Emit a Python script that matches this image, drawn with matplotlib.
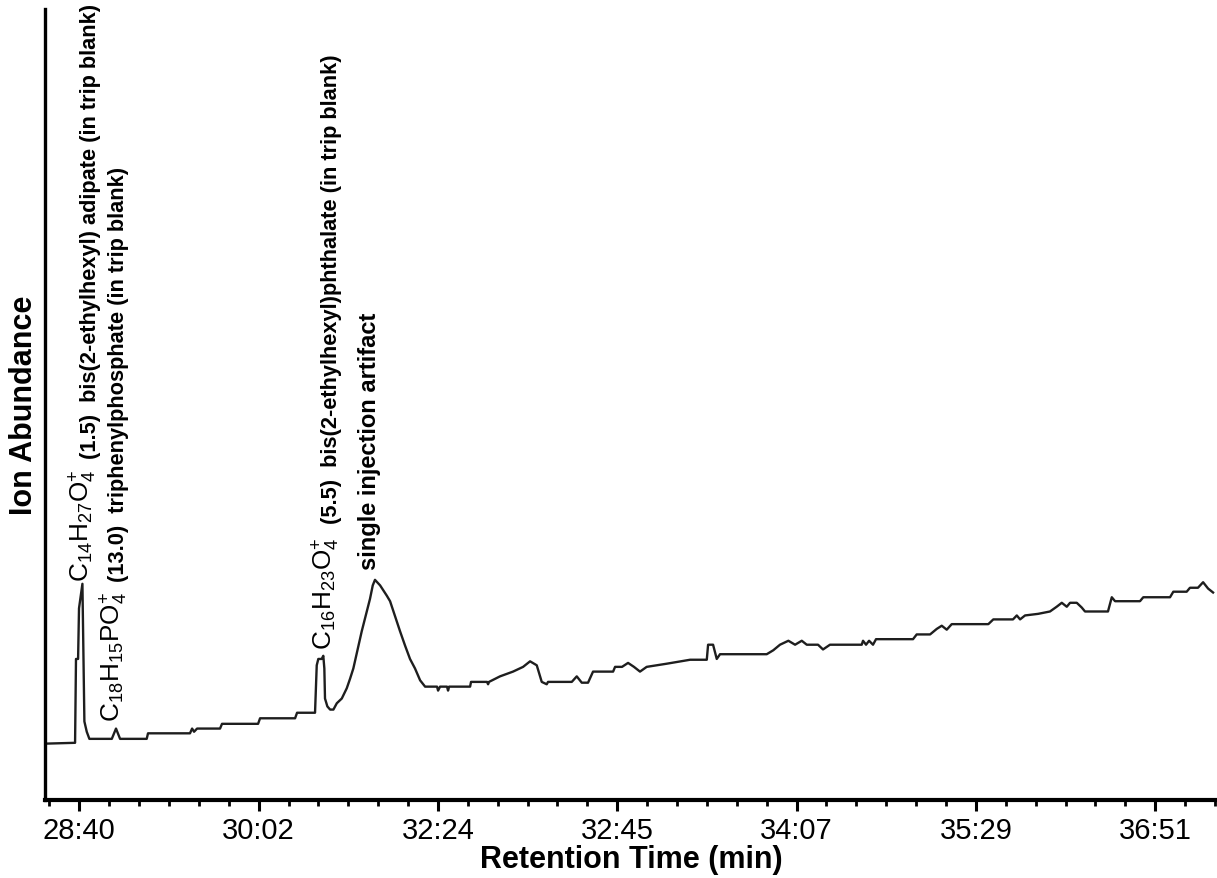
import matplotlib
matplotlib.use("Agg")
import matplotlib.pyplot as plt
from matplotlib import font_manager
from matplotlib.ticker import FixedLocator, AutoMinorLocator

# retention time (min) and ion abundance (arbitrary units, % of axis)
rt = [28.420, 28.634, 28.641, 28.657, 28.664, 28.690, 28.697, 28.705, 28.723, 28.743,
      28.914, 28.946, 28.977, 29.180, 29.190, 29.510, 29.526, 29.541, 29.564, 29.739,
      29.754, 30.029, 30.044, 30.311, 30.326, 30.463, 30.476, 30.488, 30.514, 30.526,
      30.534, 30.539, 30.557, 30.578, 30.603, 30.629, 30.667, 30.705, 30.730, 30.755,
      30.793, 30.819, 30.857, 30.882, 30.903, 30.920, 30.959, 31.010, 31.035, 31.073,
      31.111, 31.149, 31.187, 31.225, 31.264, 31.302, 31.393, 31.401, 31.416, 31.469,
      31.477, 31.485, 31.645, 31.652, 31.774, 31.782, 31.789, 31.873, 31.972, 32.049,
      32.102, 32.153, 32.191, 32.229, 32.239, 32.420, 32.458, 32.496, 32.544, 32.582,
      32.735, 32.750, 32.803, 32.849, 32.894, 32.940, 32.991, 33.144, 33.322, 33.449,
      33.459, 33.497, 33.525, 33.550, 33.906, 33.956, 34.007, 34.071, 34.122, 34.173,
      34.211, 34.297, 34.335, 34.388, 34.630, 34.640, 34.663, 34.686, 34.716, 34.739,
      35.021, 35.049, 35.151, 35.202, 35.240, 35.278, 35.316, 35.595, 35.633, 35.783,
      35.812, 35.837, 35.875, 35.974, 36.065, 36.116, 36.155, 36.193, 36.218, 36.269,
      36.307, 36.332, 36.507, 36.536, 36.561, 36.751, 36.776, 36.980, 37.005, 37.107,
      37.132, 37.193, 37.232, 37.270, 37.308]
abundance = [7.1, 7.2, 17.8, 17.8, 24.2, 27.3, 19.5, 9.9, 8.6, 7.7,
             7.7, 9.0, 7.7, 7.7, 8.4, 8.4, 9.0, 8.6, 9.0, 9.0,
             9.6, 9.6, 10.3, 10.3, 11.0, 11.0, 17.0, 17.8, 17.8, 18.2,
             16.6, 12.8, 11.8, 11.4, 11.4, 12.2, 12.8, 14.1, 15.3, 16.6,
             19.4, 21.3, 23.8, 25.4, 27.1, 27.8, 27.1, 25.8, 25.1, 23.2,
             21.3, 19.5, 17.8, 16.6, 15.1, 14.3, 14.3, 13.8, 14.3, 14.3,
             13.8, 14.3, 14.3, 14.9, 14.9, 14.6, 14.9, 15.6, 16.2, 16.8,
             17.5, 17.0, 14.9, 14.6, 14.9, 14.9, 15.6, 14.8, 14.8, 16.2,
             16.2, 16.8, 16.8, 17.3, 16.8, 16.2, 16.8, 17.2, 17.7, 17.7,
             19.6, 19.6, 17.8, 18.4, 18.4, 18.9, 19.6, 20.1, 19.6, 20.1,
             19.6, 19.6, 19.0, 19.6, 19.6, 20.1, 19.6, 20.1, 19.6, 20.3,
             20.3, 20.9, 20.9, 21.6, 22.0, 21.5, 22.2, 22.2, 22.8, 22.8,
             23.3, 22.8, 23.3, 23.5, 23.8, 24.4, 24.9, 24.4, 24.9, 24.9,
             24.3, 23.8, 23.8, 25.6, 25.1, 25.1, 25.6, 25.6, 26.3, 26.3,
             26.8, 26.8, 27.5, 26.7, 26.2]

tick_labels = ["28:40", "30:02", "32:24", "32:45", "34:07", "35:29", "36:51"]
tick_start = 28 + 40 / 60
tick_step = 82 / 60

# peak labels: formula, note, base points (rt, abundance) of each rotated text
formulas = [r"$\mathregular{C_{14}H_{27}O_4^{+}}$",
            r"$\mathregular{C_{18}H_{15}PO_4^{+}}$",
            r"$\mathregular{C_{16}H_{23}O_4^{+}}$"]
notes = ["(1.5)  bis(2-ethylhexyl) adipate (in trip blank)",
         "(13.0)  triphenylphosphate (in trip blank)",
         "(5.5)  bis(2-ethylhexyl)phthalate (in trip blank)"]
formula_xy = [(28.690, 27.6), (28.926, 9.9), (30.545, 19.1)]
note_xy = [(28.751, 43.2), (28.965, 27.6), (30.589, 35.0)]
artifact_text = "single injection artifact"
artifact_xy = (30.880, 29.2)

names = {f.name for f in font_manager.fontManager.ttflist}
narrow = "Liberation Sans Narrow" if "Liberation Sans Narrow" in names else "Liberation Sans"
plt.rcParams["font.family"] = [narrow, "Liberation Sans", "DejaVu Sans"]
plt.rcParams["mathtext.fontset"] = "custom"
plt.rcParams["mathtext.rm"] = narrow

fig = plt.figure(figsize=(12.17, 8.79), dpi=100)
ax = fig.add_axes([0.037, 0.089, 0.963, 0.9])

ax.plot(rt, abundance, color="#1e1e1e", lw=1.7)

ax.set_xlim(28.405, 37.338)
ax.set_ylim(0, 100)

ax.spines["top"].set_visible(False)
ax.spines["right"].set_visible(False)
ax.spines["left"].set_linewidth(2.4)
ax.spines["bottom"].set_linewidth(3)

ticks = [tick_start + i * tick_step for i in range(len(tick_labels))]
ax.xaxis.set_major_locator(FixedLocator(ticks))
ax.set_xticklabels(tick_labels, fontsize=21)
ax.xaxis.set_minor_locator(AutoMinorLocator(6))
ax.tick_params(axis="x", which="major", length=8, width=2.2, direction="out", pad=4)
ax.tick_params(axis="x", which="minor", length=4, width=2, direction="out")
ax.set_yticks([])

ax.set_xlabel("Retention Time (min)", fontsize=22, fontweight="bold", labelpad=0)
ax.set_ylabel("Ion Abundance", fontsize=22, fontweight="bold", labelpad=4)

for f, (fx, fy) in zip(formulas, formula_xy):
    ax.text(fx, fy, f, rotation=90, ha="center", va="bottom", fontsize=18.8)
for n, (nx, ny) in zip(notes, note_xy):
    ax.text(nx, ny, n, rotation=90, ha="center", va="bottom", fontsize=15.7,
            fontweight="bold")
ax.text(artifact_xy[0], artifact_xy[1], artifact_text, rotation=90, ha="center",
        va="bottom", fontsize=17, fontweight="bold")

fig.savefig("out.png", dpi=100)
